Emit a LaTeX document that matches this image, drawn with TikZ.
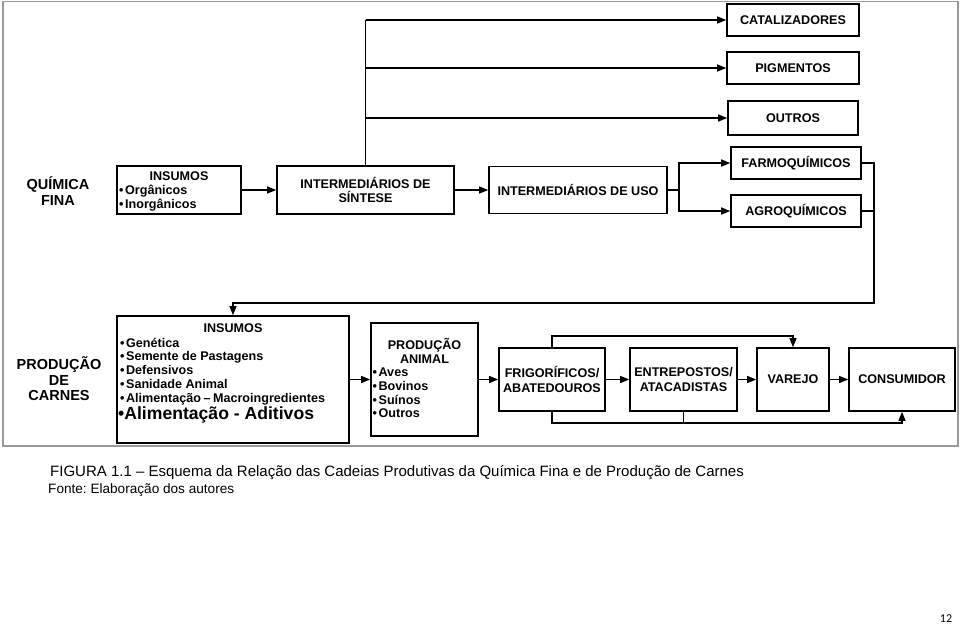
\documentclass[tikz,border=0pt]{standalone}
\usepackage{fontspec}
\setmainfont{Liberation Sans}
\newfontfamily\pagefont{Carlito}
\usetikzlibrary{arrows.meta}
\frenchspacing
\tikzset{
  boxtxt/.style={font=\bfseries\fontsize{12.6}{14.5}\selectfont},
  box/.style={draw, line width=1.6pt, boxtxt, align=center, inner sep=0pt},
  item/.style={anchor=base west, inner sep=0pt, boxtxt},
  lbl/.style={font=\bfseries\fontsize{14.5}{16}\selectfont, align=center, inner sep=0pt},
  ln/.style={line width=1.3pt},
  conn/.style={line width=1.3pt, -{Triangle[length=9pt,width=7pt]}},
  captxt/.style={anchor=west, inner sep=0pt, font=\fontsize{15}{17}\selectfont}
}
\begin{document}
\begin{tikzpicture}[x=1pt,y=-1pt]
\useasboundingbox (0,0) rectangle (960,625);
\draw[gray!80, line width=1.5pt] (3,1.5) rectangle (958,446);

% Quimica fina row
\node[lbl] (qf) at (58,191.5) {QUÍMICA\\FINA};
\node[box, minimum width=124pt, minimum height=48pt] (insq) at (179,190) {};
\node[boxtxt, inner sep=0pt] (insqt) at (179,176) {INSUMOS};
\node[item] (insq1) at (119,194.5) {\textbullet\hspace{1.5pt}Orgânicos};
\node[item] (insq2) at (119,208) {\textbullet\hspace{1.5pt}Inorgânicos};
\node[box, minimum width=177pt, minimum height=48pt] (sint) at (365.5,190) {INTERMEDIÁRIOS DE\\SÍNTESE};
\node[box, minimum width=178pt, minimum height=47pt] (uso) at (578,190) {INTERMEDIÁRIOS DE USO};
\node[box, minimum width=132pt, minimum height=32pt] (cat) at (793,20) {CATALIZADORES};
\node[box, minimum width=132pt, minimum height=32pt] (pig) at (793,68) {PIGMENTOS};
\node[box, minimum width=130pt, minimum height=34pt] (out) at (793,118) {OUTROS};
\node[box, minimum width=130pt, minimum height=32pt] (farmo) at (796,163) {FARMOQUÍMICOS};
\node[box, minimum width=130pt, minimum height=32pt] (agro) at (796,211) {AGROQUÍMICOS};

% Producao de carnes row
\node[lbl] (pc) at (59,379) {PRODUÇÃO\\[-0.5pt]DE\\[-0.5pt]CARNES};
\node[box, minimum width=232pt, minimum height=127pt] (insc) at (233,379.5) {};
\node[boxtxt, inner sep=0pt] (insct) at (233,328.5) {INSUMOS};
\node[item] (insc1) at (120,347) {\textbullet\hspace{1.5pt}Genética};
\node[item] (insc2) at (120,360.5) {\textbullet\hspace{1.5pt}Semente de Pastagens};
\node[item] (insc3) at (120,374.5) {\textbullet\hspace{1.5pt}Defensivos};
\node[item] (insc4) at (120,388.5) {\textbullet\hspace{1.5pt}Sanidade Animal};
\node[item] (insc5) at (120,402.5) {\textbullet\hspace{1.5pt}Alimentação\hspace{2.5pt}–\hspace{2.5pt}Macroingredientes};
\node[item, font=\bfseries\fontsize{17.6}{19}\selectfont] (insc6) at (118,419.5) {\textbullet Alimentação - Aditivos};
\node[box, minimum width=107pt, minimum height=113pt] (prod) at (424.5,379.5) {};
\node[boxtxt, align=center, inner sep=0pt] (prodt) at (424.5,351) {PRODUÇÃO\\ANIMAL};
\node[item] (prod1) at (372.5,376.5) {\textbullet\hspace{1.5pt}Aves};
\node[item] (prod2) at (372.5,390) {\textbullet\hspace{1.5pt}Bovinos};
\node[item] (prod3) at (372.5,404) {\textbullet\hspace{1.5pt}Suínos};
\node[item] (prod4) at (372.5,417.5) {\textbullet\hspace{1.5pt}Outros};
\node[box, minimum width=106pt, minimum height=63pt] (frig) at (552,379.5) {FRIGORÍFICOS/\\ABATEDOUROS};
\node[box, minimum width=107pt, minimum height=63pt] (entr) at (683.5,379.5) {ENTREPOSTOS/\\ATACADISTAS};
\node[box, minimum width=72pt, minimum height=63pt] (var) at (793,379.5) {VAREJO};
\node[box, minimum width=106pt, minimum height=63pt] (cons) at (902,379.5) {CONSUMIDOR};

% connectors top
\draw[conn] (insq.east) -- (sint.west);
\draw[conn] (sint.east) -- (uso.west);
\coordinate (j1) at (365.5,20);
\draw[ln] (sint.north) -- (j1);
\draw[conn] (j1) -- (cat.west);
\draw[conn] (sint.north |- pig.west) -- (pig.west);
\draw[conn] (sint.north |- out.west) -- (out.west);
\coordinate (b1) at (679,190);
\draw[ln] (uso.east) -- (b1);
\draw[conn] (b1) |- (farmo.west);
\draw[conn] (b1) |- (agro.west);
\coordinate (fb) at (874,303);
\draw[conn] (farmo.east) -| (fb) -| (insc.north);
\draw[ln] (agro.east) -- (agro.east -| fb);

% connectors bottom
\draw[conn] (insc.east) -- (prod.west);
\draw[conn] (prod.east) -- (frig.west);
\draw[conn] (frig.east) -- (entr.west);
\draw[conn] (entr.east) -- (var.west);
\draw[conn] (var.east) -- (cons.west);
\coordinate (tb) at (552,336);
\draw[conn] (frig.north) -- (tb) -| (var.north);
\coordinate (bb) at (552,423);
\draw[conn] (frig.south) -- (bb) -| (cons.south);
\draw[ln] (entr.south) -- (entr.south |- bb);

% caption
\node[captxt] (capt) at (50,473) {FIGURA 1.1 – Esquema da Relação das Cadeias Produtivas da Química Fina e de Produção de Carnes};
\node[captxt, font=\fontsize{13.6}{15}\selectfont] (fonte) at (48,490.5) {Fonte: Elaboração dos autores};
\node[inner sep=0pt, font=\pagefont\fontsize{12}{14}\selectfont] (pg) at (946,619) {12};
\end{tikzpicture}
\end{document}
